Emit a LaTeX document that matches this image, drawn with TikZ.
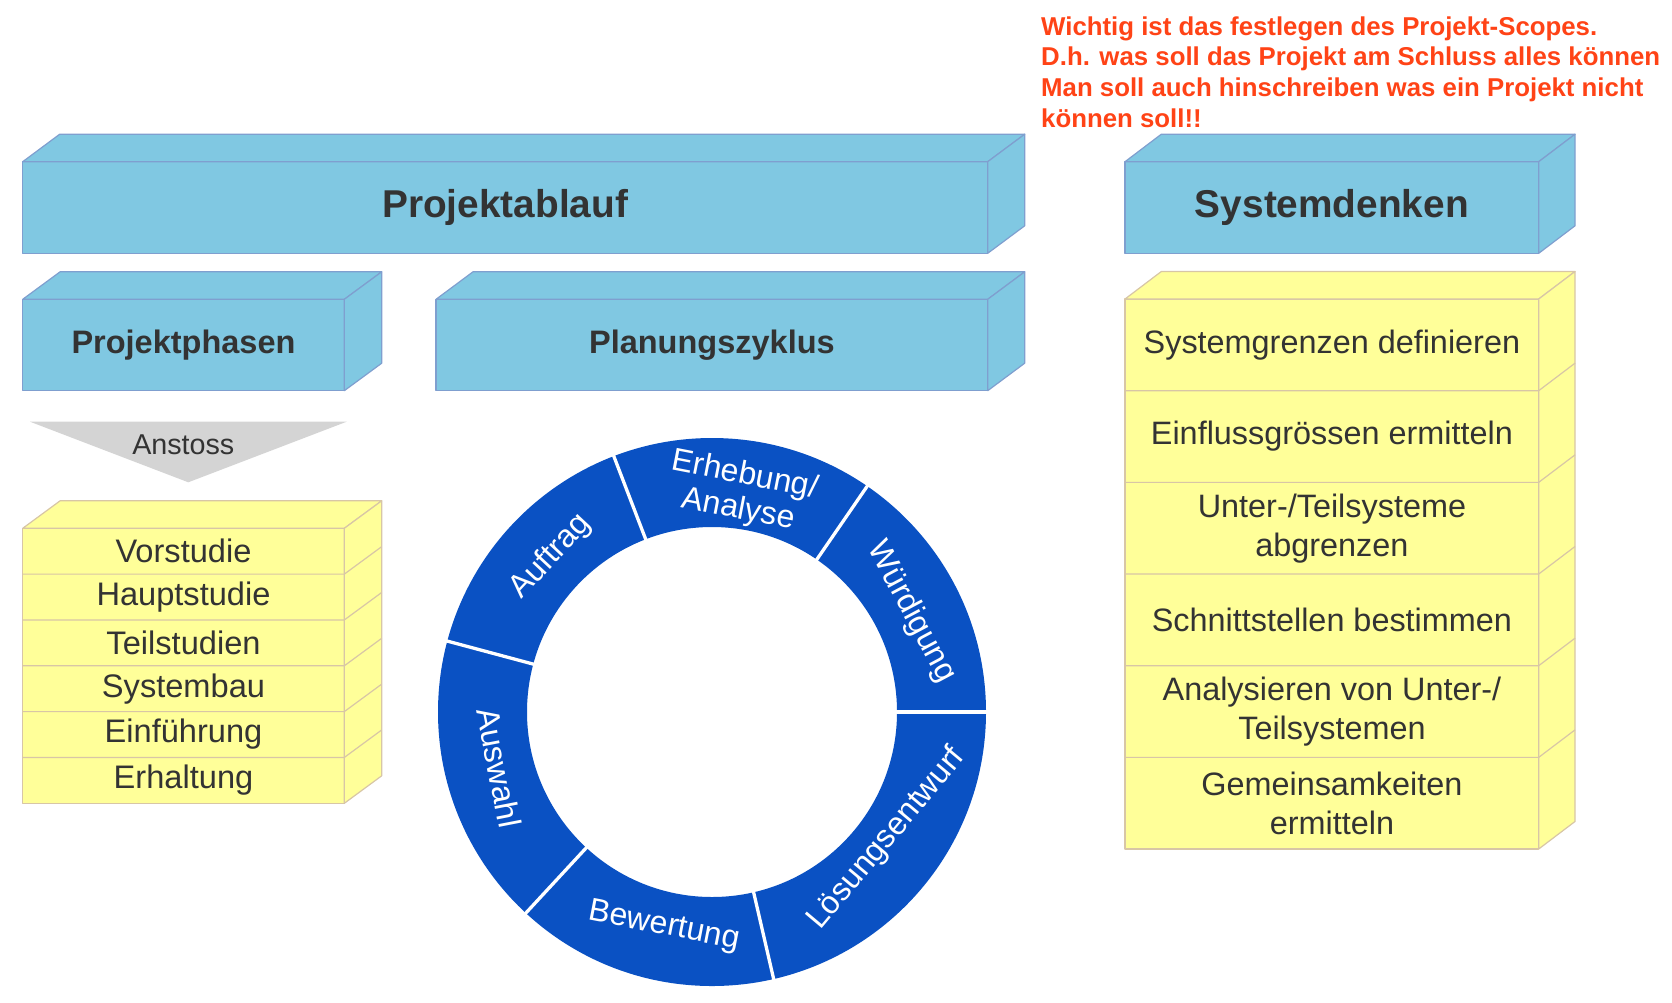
\documentclass[tikz,border=0pt]{standalone}
\usepackage{fontspec}
\setmainfont{Liberation Sans}
\definecolor{boxblue}{HTML}{80C8E2}
\definecolor{boxblueline}{HTML}{7F9FCF}
\definecolor{boxyellow}{HTML}{FFFF99}
\definecolor{boxyellowline}{HTML}{D8C6A6}
\definecolor{textgray}{HTML}{333333}
\definecolor{ringblue}{HTML}{0A51C3}
\definecolor{notered}{HTML}{FF4316}
\definecolor{anstossgray}{HTML}{D4D4D4}
\newcommand{\cubebox}[6]{%
  \path[#6] (#1,#2) rectangle (#3,#4);
  \path[#6] (#1,#2) -- (#1+#5,#2-27.5) -- (#3+#5,#2-27.5) -- (#3,#2) -- cycle;
  \path[#6] (#3,#2) -- (#3+#5,#2-27.5) -- (#3+#5,#4-27.5) -- (#3,#4) -- cycle;
}
\begin{document}
\begin{tikzpicture}[x=1pt,y=-1pt,
  bluebox/.style={fill=boxblue,draw=boxblueline,line width=1.2pt,line join=round},
  yellowbox/.style={fill=boxyellow,draw=boxyellowline,line width=1.2pt,line join=round},
  yline/.style={draw=boxyellowline,line width=1.2pt},
  titlebig/.style={font=\bfseries\fontsize{38.8}{46}\selectfont,text=textgray,inner sep=0pt},
  titlemid/.style={font=\bfseries\fontsize{32.5}{39}\selectfont,text=textgray,inner sep=0pt},
  leftitem/.style={font=\fontsize{32.6}{38}\selectfont,text=textgray,inner sep=0pt},
  rightitem/.style={font=\fontsize{32.4}{39}\selectfont,text=textgray,inner sep=0pt,align=center},
  ringlabel/.style={font=\fontsize{32}{35}\selectfont,text=white,inner sep=0pt,align=center},
  notetext/.style={font=\bfseries\fontsize{25.8}{31}\selectfont,text=notered,inner sep=0pt,anchor=base west}
]
\useasboundingbox (0,0) rectangle (1672,1002);

% note text
\node[notetext] (n1) at (1041,35) {Wichtig ist das festlegen des Projekt-Scopes.};
\node[notetext] (n2) at (1041,65.8) {D.h. was soll das Projekt am Schluss alles können};
\node[notetext] (n3) at (1041,96.6) {Man soll auch hinschreiben was ein Projekt nicht};
\node[notetext] (n4) at (1041,127.4) {können soll!!};

% blue boxes
\cubebox{22.7}{161.7}{987.7}{253.3}{37}{bluebox}
\node[titlebig] (projektablauf) at (505.2,207.5) {Projektablauf};
\cubebox{22.7}{299.3}{344.3}{390.7}{37.4}{bluebox}
\node[titlemid] (projektphasen) at (183.5,345) {Projektphasen};
\cubebox{436}{299.3}{987.7}{390.7}{37}{bluebox}
\node[titlemid] (planungszyklus) at (711.9,345) {Planungszyklus};
\cubebox{1125}{161.7}{1538.7}{253.3}{36.3}{bluebox}
\node[titlebig] (systemdenken) at (1331.9,207.5) {Systemdenken};

% Anstoss
\path[fill=anstossgray] (30,421.7) -- (346.7,421.7) -- (188.3,482.3) -- cycle;
\node[font=\fontsize{28.7}{34}\selectfont,text=textgray,inner sep=0pt,anchor=base] (anstoss) at (183.3,454) {Anstoss};

% left yellow stack
\cubebox{22.7}{528.3}{344.3}{803.3}{37.4}{yellowbox}
\foreach \i in {1,...,5}{
  \draw[yline] (22.7,528.3+\i*45.83) -- (344.3,528.3+\i*45.83) -- ++(37.4,-27.5);
}
\node[leftitem] (p1) at (183.5,551.2) {Vorstudie};
\node[leftitem] (p2) at (183.5,597.0) {Hauptstudie};
\node[leftitem] (p3) at (183.5,642.9) {Teilstudien};
\node[leftitem] (p4) at (183.5,688.7) {Systembau};
\node[leftitem] (p5) at (183.5,734.5) {Einführung};
\node[leftitem] (p6) at (183.5,780.4) {Erhaltung};

% right yellow stack
\cubebox{1125}{299}{1538.7}{849}{36.3}{yellowbox}
\foreach \i in {1,...,5}{
  \draw[yline] (1125,299+\i*91.67) -- (1538.7,299+\i*91.67) -- ++(36.3,-27.5);
}
\node[rightitem] (s1) at (1331.9,344.8) {Systemgrenzen definieren};
\node[rightitem] (s2) at (1331.9,436.5) {Einflussgrössen ermitteln};
\node[rightitem] (s3) at (1331.9,528.2) {Unter-/Teilsysteme\\abgrenzen};
\node[rightitem] (s4) at (1331.9,619.8) {Schnittstellen bestimmen};
\node[rightitem] (s5) at (1331.9,711.5) {Analysieren von Unter-/\\Teilsystemen};
\node[rightitem] (s6) at (1331.9,803.2) {Gemeinsamkeiten\\ermitteln};

% ring
\coordinate (C) at (712,712);
\fill[ringblue,even odd rule] (C) circle[radius=274pt] (C) circle[radius=185pt];
\foreach \a in {0,55.5,111,165,227.2,283}{
  \draw[white,line width=3.3pt] ([shift={(\a:178pt)}]C) -- ([shift={(\a:280pt)}]C);
}
\node[ringlabel,rotate=-11] (r2) at ([shift={(82.3:221pt)}]C) {Erhebung/\\Analyse};
\node[ringlabel,rotate=-62] (r1) at ([shift={(26.6:223pt)}]C) {Würdigung};
\node[ringlabel,rotate=47] (r3) at ([shift={(136:224pt)}]C) {Auftrag};
\node[ringlabel,rotate=-79] (r4) at ([shift={(194.6:220pt)}]C) {Auswahl};
\node[ringlabel,rotate=-11] (r5) at ([shift={(257.4:220pt)}]C) {Bewertung};
\node[ringlabel,rotate=50] (r6) at ([shift={(324:216pt)}]C) {Lösungsentwurf};
\end{tikzpicture}
\end{document}
